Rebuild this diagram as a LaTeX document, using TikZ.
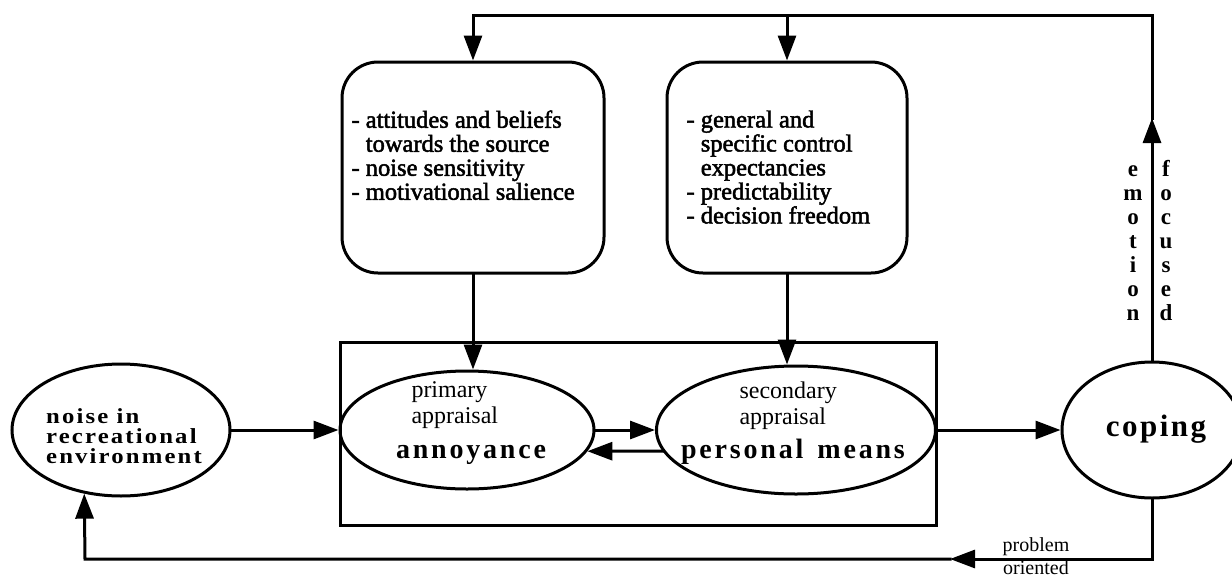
\documentclass[tikz,border=0pt]{standalone}
\usepackage{fontspec}
\setmainfont{Liberation Serif}
\newfontfamily\boxfont[FakeBold=2]{Liberation Serif}
\newfontfamily\noisefont[LetterSpace=10,FakeStretch=1.15]{Liberation Serif}
\newfontfamily\bigfont[LetterSpace=10]{Liberation Serif}
\newfontfamily\copfont[LetterSpace=8]{Liberation Serif}
\usetikzlibrary{shapes.geometric,arrows.meta}
\begin{document}
\begin{tikzpicture}[x=1pt,y=-1pt,
  line width=3pt, line cap=rect,
  conn/.style={line width=3pt,-{Triangle[length=25pt,width=18pt]}},
  ell/.style={ellipse,draw,line width=3pt,inner sep=0pt},
  rbox/.style={rectangle,rounded corners=36pt,draw,line width=3pt,fill=white,inner sep=0pt},
  frame/.style={rectangle,draw,line width=3pt,inner sep=0pt},
  boxtext/.style={font=\boxfont\fontsize{24.5}{24}\selectfont,align=left,anchor=north west,inner sep=0pt},
  smalltext/.style={font=\fontsize{24}{26}\selectfont,align=left,anchor=north west,inner sep=0pt},
  bigtext/.style={font=\bigfont\bfseries\fontsize{28}{30}\selectfont,anchor=base,inner sep=0pt},
  vert/.style={font=\bfseries\fontsize{23}{24}\selectfont,align=center,inner sep=0pt}
]
\useasboundingbox (0,0) rectangle (1232,576);

% boxes
\node[rbox,minimum width=262pt,minimum height=211pt] (b1) at (473,167.5) {};
\node[rbox,minimum width=240pt,minimum height=211pt] (b2) at (787,167.5) {};
\node[boxtext] (b1t) at (350,109) {- attitudes and beliefs\\\hphantom{- }towards the source\\- noise sensitivity\\- motivational salience};
\node[boxtext] (b2t) at (685,109) {- general and\\\hphantom{- }specific control\\\hphantom{- }expectancies\\- predictability\\- decision freedom};

% frame
\node[frame,minimum width=596pt,minimum height=183pt] (fr) at (638,433.5) {};

% ellipses
\node[ell,minimum width=218pt,minimum height=132pt] (noise) at (121,430) {};
\node[ell,minimum width=254pt,minimum height=118pt] (ann) at (467,430) {};
\node[ell,minimum width=279pt,minimum height=128pt] (pm) at (796,430) {};
\node[ell,minimum width=180pt,minimum height=136pt] (cop) at (1152,430) {};

% ellipse texts
\node[font=\noisefont\bfseries\fontsize{21.5}{20}\selectfont,align=left,inner sep=0pt] (noiset) at (124,436) {noise in\\recreational\\environment};
\node[smalltext] (annt) at (410,380) {primary\\appraisal};
\node[bigtext] (annb) at (471,458) {annoyance};
\node[smalltext] (pmt) at (738,380) {secondary\\appraisal};
\node[bigtext] (pmb) at (793,458) {personal\hspace{14pt}means};
\node[font=\copfont\bfseries\fontsize{31}{32}\selectfont,anchor=base,inner sep=0pt] (copt) at (1156,436) {coping};

% arrows between nodes
\draw[conn] (noise.east) -- (ann.west);
\draw[conn] (ann.east) -- (pm.west);
\draw[conn] (pm.189) -- (ann.350);
\draw[conn] (pm.east) -- (cop.west);
\draw[conn] (b1.south) -- (b1.south |- ann.north);
\draw[conn] (b2.south) -- (b2.south |- pm.north);

% emotion focused loop
\coordinate (emtip) at (1152,118);
\coordinate (tr) at (1152,15);
\coordinate (tl) at (473,15);
\draw[conn] (cop.north) -- (emtip);
\draw (emtip) -- (tr);
\draw[conn] (tr) -- (tl) -- (b1.north);
\draw[conn] (tl -| b2.north) -- (b2.north);
\node[vert] (emo) at (1133,243) {e\\m\\o\\t\\i\\o\\n};
\node[vert] (foc) at (1166,241) {f\\o\\c\\u\\s\\e\\d};

% problem oriented loop
\coordinate (br) at (1152,559);
\coordinate (pbtip) at (950,559);
\coordinate (bl) at (85,559);
\draw[conn] (cop.south) -- (br) -- (pbtip);
\draw[conn] (pbtip) -- (bl) -- (noise.240);
\node[font=\fontsize{20}{21}\selectfont,inner sep=0pt,anchor=base] (probl) at (1036,551) {problem};
\node[font=\fontsize{20}{21}\selectfont,inner sep=0pt,anchor=base] (orient) at (1036,574) {oriented};
\end{tikzpicture}
\end{document}
